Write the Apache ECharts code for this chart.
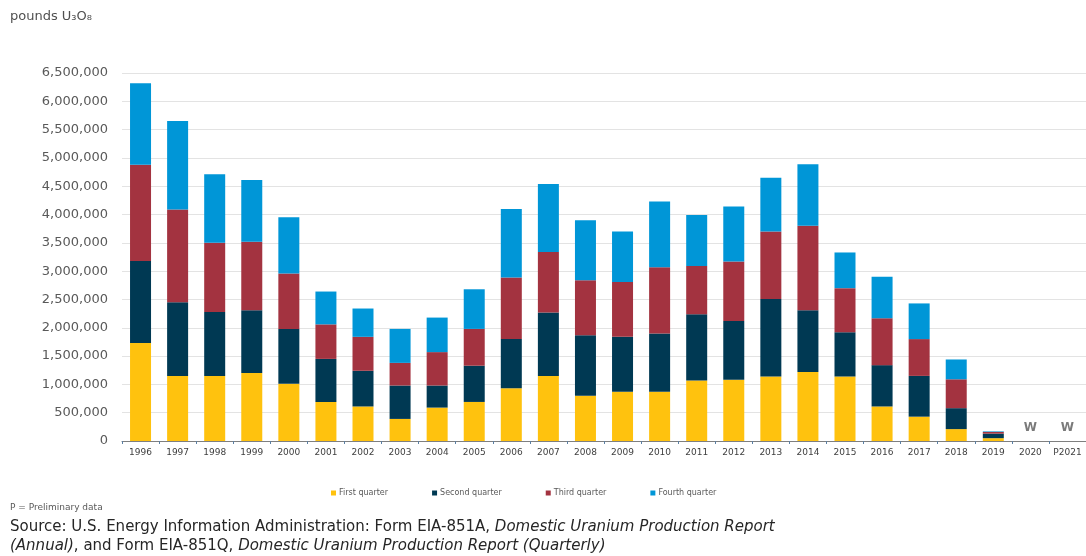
<!DOCTYPE html>
<html>
<head>
<meta charset="utf-8">
<script src="https://cdn.jsdelivr.net/npm/echarts@6/dist/echarts.min.js"></script>
<style>html,body{margin:0;padding:0;background:#fff;}#c{width:1086px;height:556px;}</style>
</head>
<body>
<div id="c"></div>
<script>
const categories = ['1996','1997','1998','1999','2000','2001','2002','2003','2004','2005','2006','2007','2008','2009','2010','2011','2012','2013','2014','2015','2016','2017','2018','2019','2020','P2021'];
const firstQuarter  = [1730000,1150000,1150000,1200000,1010000,690000,610000,390000,590000,690000,930000,1150000,800000,870000,870000,1070000,1080000,1140000,1220000,1140000,610000,430000,210000,50000,null,null];
const secondQuarter = [1450000,1300000,1130000,1110000,970000,760000,630000,590000,390000,640000,870000,1120000,1070000,970000,1030000,1170000,1040000,1370000,1090000,780000,730000,720000,370000,80000,null,null];
const thirdQuarter  = [1700000,1640000,1220000,1210000,980000,610000,600000,400000,590000,650000,1090000,1070000,970000,970000,1170000,850000,1050000,1190000,1490000,780000,830000,650000,510000,30000,null,null];
const fourthQuarter = [1440000,1560000,1210000,1090000,990000,580000,500000,600000,610000,700000,1210000,1200000,1060000,890000,1160000,900000,970000,950000,1090000,630000,730000,630000,350000,10000,null,null];
const withheld = [false,false,false,false,false,false,false,false,false,false,false,false,false,false,false,false,false,false,false,false,false,false,false,false,true,true];
const seriesNames = ['First quarter','Second quarter','Third quarter','Fourth quarter'];
const colors = ['#FFC20E','#003953','#A33340','#0096D7'];

const chart = echarts.init(document.getElementById('c'));
const valuesList = [firstQuarter, secondQuarter, thirdQuarter, fourthQuarter];
const barSeries = valuesList.map((vals, i) => ({
  name: seriesNames[i],
  type: 'bar',
  stack: 'total',
  data: vals,
  barWidth: 21,
  itemStyle: { color: colors[i] },
  emphasis: { disabled: true }
}));
barSeries.push({
  name: 'W',
  type: 'scatter',
  symbolSize: 0,
  data: withheld.map(w => w ? 0 : null),
  label: { show: true, formatter: 'W', position: 'top', distance: 7, color: '#595959', fontWeight: 'bold', fontSize: 12, fontFamily: 'DejaVu Sans' },
  silent: true
});

chart.setOption({
  animation: false,
  textStyle: { fontFamily: 'DejaVu Sans' },
  grid: { left: 122, right: 0, top: 73, bottom: 115, containLabel: false },
  legend: {
    data: seriesNames,
    left: 326, top: 484,
    icon: 'rect', itemWidth: 5, itemHeight: 5, itemGap: 44,
    textStyle: { fontSize: 8, color: '#595959', padding: [0,0,0,-2] }
  },
  xAxis: {
    type: 'category',
    data: categories,
    axisLine: { lineStyle: { color: '#7f7f7f', width: 1 } },
    axisTick: { show: true, length: 3, lineStyle: { color: '#5b7fa3' } },
    axisLabel: { fontSize: 9, color: '#404040', margin: 7 }
  },
  yAxis: {
    type: 'value',
    min: 0, max: 6500000, interval: 500000,
    axisLine: { show: false },
    axisTick: { show: false },
    splitLine: { lineStyle: { color: '#e3e3e3', width: 1 } },
    axisLabel: {
      fontSize: 13, color: '#595959', margin: 14,
      formatter: v => v.toLocaleString('en-US')
    }
  },
  graphic: [
    { type: 'text', left: 10, top: 10, style: { text: 'pounds U\u2083O\u2088', font: '13px "DejaVu Sans"', fill: '#505050' } },
    { type: 'text', left: 10, top: 503, style: { text: 'P = Preliminary data', font: '9px "DejaVu Sans"', fill: '#595959' } },
    { type: 'text', left: 10, top: 518, style: {
        text: '{n|Source: U.S. Energy Information Administration: Form EIA-851A, }{i|Domestic Uranium Production Report}\n{i|(Annual)}{n|, and Form EIA-851Q, }{i|Domestic Uranium Production Report (Quarterly)}',
        lineHeight: 19,
        rich: {
          n: { font: '15px "DejaVu Sans"', fill: '#262626', lineHeight: 19 },
          i: { font: 'italic 15px "DejaVu Sans"', fill: '#262626', lineHeight: 19 }
        }
    } }
  ],
  series: barSeries
});
</script>
</body>
</html>
